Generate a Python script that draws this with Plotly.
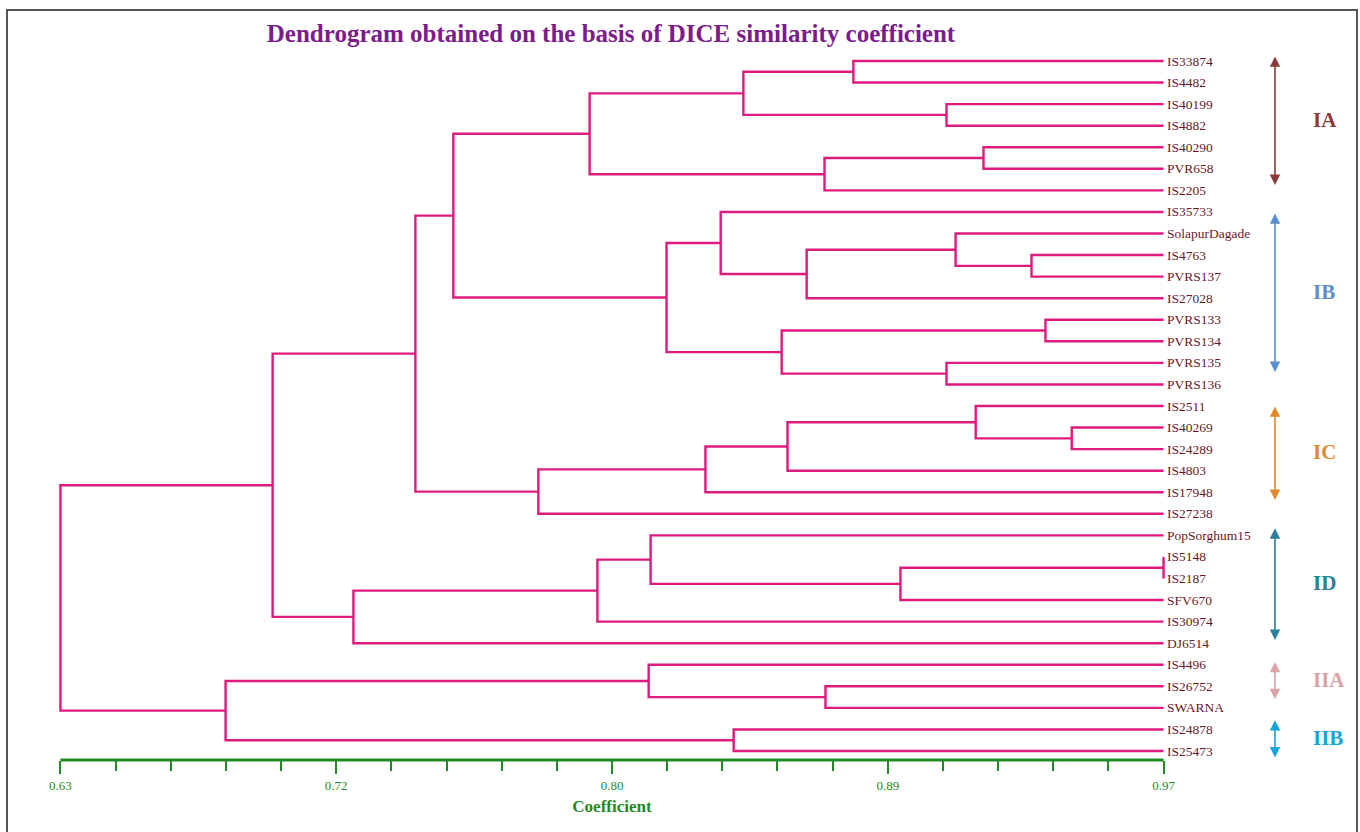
import numpy as np
import plotly.graph_objects as go

# ---------------- data ----------------
leaves = ["IS33874", "IS4482", "IS40199", "IS4882", "IS40290", "PVR658", "IS2205",
          "IS35733", "SolapurDagade", "IS4763", "PVRS137", "IS27028", "PVRS133",
          "PVRS134", "PVRS135", "PVRS136",
          "IS2511", "IS40269", "IS24289", "IS4803", "IS17948", "IS27238",
          "PopSorghum15", "IS5148", "IS2187", "SFV670", "IS30974", "DJ6514",
          "IS4496", "IS26752", "SWARNA", "IS24878", "IS25473"]

# linkage: node id = len(leaves) + row index
merge_left = [0, 2, 33, 4, 36, 35, 9, 8, 40, 7, 12, 14, 43, 42, 38, 17, 16, 49, 50, 51,
              47, 23, 54, 22, 56, 57, 53, 29, 28, 31, 61, 59]
merge_right = [1, 3, 34, 5, 6, 37, 10, 39, 11, 41, 13, 15, 44, 45, 46, 18, 48, 19, 20, 21,
               52, 24, 25, 55, 26, 27, 58, 30, 60, 32, 62, 63]
merge_height = [0.8744, 0.9031, 0.8405, 0.9145, 0.8655, 0.7931, 0.9293, 0.9059, 0.8600,
                0.8335, 0.9336, 0.9031, 0.8523, 0.8168, 0.7511, 0.9417, 0.9121, 0.8541,
                0.8288, 0.7773, 0.7394, 0.9700, 0.8889, 0.8119, 0.7955, 0.7203, 0.6954,
                0.8658, 0.8113, 0.8375, 0.6809, 0.6300]

tick_vals = [0.63, 0.715, 0.80, 0.885, 0.97]
tick_text = ["0.63", "0.72", "0.80", "0.89", "0.97"]

groups = ["IA", "IB", "IC", "ID", "IIA", "IIB"]
group_start = [-0.28, 7.0, 15.95, 21.6, 27.8, 30.5]
group_end = [5.75, 14.42, 20.36, 26.85, 29.6, 32.3]
group_colors = ["#8B3A3A", "#5B8FC9", "#E0892C", "#2B7F96", "#D9A3AA", "#1AA3DD"]

# ---------------- build dendrogram paths ----------------
n = len(leaves)
LEAF_X = 0.97
node_x = {i: LEAF_X for i in range(n)}
node_y = {i: float(i) for i in range(n)}
xs, ys = [], []
for k, (a, b, h) in enumerate(zip(merge_left, merge_right, merge_height)):
    nid = n + k
    xs += [node_x[a], h, h, node_x[b], None]
    ys += [node_y[a], node_y[a], node_y[b], node_y[b], None]
    node_x[nid] = h
    node_y[nid] = (node_y[a] + node_y[b]) / 2

LINE = "#DE1A7E"
GREEN = "#1F8B24"
SERIF = "Liberation Serif, Times New Roman, serif"

W, H = 1360, 832
ML, MR, MT, MB = 28, 164, 40, 72
XR = [0.62, 0.98]
YR = [32.417, -0.974]
plot_w = W - ML - MR
plot_h = H - MT - MB
px_per_leaf = plot_h / (YR[0] - YR[1])


def paper_x(px):
    return (px - ML) / plot_w


fig = go.Figure()
fig.add_trace(go.Scatter(x=xs, y=ys, mode="lines",
                         line=dict(color=LINE, width=2.4),
                         hoverinfo="skip", showlegend=False))

annotations = []
for i, name in enumerate(leaves):
    annotations.append(dict(x=LEAF_X, y=i, xref="x", yref="y", text=name,
                            showarrow=False, xanchor="left", yanchor="middle",
                            xshift=1,
                            font=dict(family=SERIF, size=13.5, color="#6A1826")))

for g, s, e, c in zip(groups, group_start, group_end, group_colors):
    annotations.append(dict(x=paper_x(1275), y=e, xref="paper", yref="y",
                            ax=0, ay=-(e - s) * px_per_leaf, axref="pixel", ayref="pixel",
                            text="", showarrow=True,
                            arrowhead=2, startarrowhead=2, arrowside="end+start",
                            arrowsize=1.3, startarrowsize=1.3, arrowwidth=1.6,
                            arrowcolor=c, standoff=0, startstandoff=0))
    annotations.append(dict(x=paper_x(1311), y=(s + e) / 2, xref="paper", yref="y",
                            text="<b>" + g + "</b>",
                            showarrow=False, xanchor="left", yanchor="middle",
                            font=dict(family=SERIF, size=21, color=c)))

shapes = [
    # outer frame
    dict(type="rect", xref="paper", yref="paper", x0=paper_x(7), x1=paper_x(1357),
         y0=-0.12, y1=1 + 30 / plot_h, line=dict(color="#555555", width=2), layer="below"),
    # green axis line
    dict(type="line", xref="x", yref="paper", x0=0.63, x1=0.97, y0=0, y1=0,
         line=dict(color=GREEN, width=3)),
]

minor_vals = [round(0.63 + 0.017 * k, 4) for k in range(21) if k % 5 != 0]

fig.update_layout(
    width=W, height=H,
    margin=dict(l=ML, r=MR, t=MT, b=MB),
    paper_bgcolor="white", plot_bgcolor="white",
    title=dict(text="<b>Dendrogram obtained on the basis of DICE similarity coefficient</b>",
               x=611 / W, xanchor="center", xref="container",
               y=1 - 33 / H, yanchor="middle", yref="container",
               font=dict(family=SERIF, size=25, color="#7A1C8C")),
    xaxis=dict(range=XR, showgrid=False, zeroline=False, showline=False,
               tickmode="array", tickvals=tick_vals, ticktext=tick_text,
               ticks="outside", ticklen=13, tickwidth=2, tickcolor=GREEN,
               tickfont=dict(family=SERIF, size=13, color=GREEN),
               minor=dict(tickmode="array", tickvals=minor_vals, ticks="outside",
                          ticklen=10, tickwidth=2, tickcolor=GREEN, showgrid=False),
               title=dict(text="<b>Coefficient</b>", standoff=8,
                          font=dict(family=SERIF, size=17, color=GREEN))),
    yaxis=dict(range=YR, visible=False, showgrid=False, zeroline=False),
    annotations=annotations,
    shapes=shapes,
)

fig.write_html("out.html", config={"displayModeBar": False},
               post_script="document.body.style.margin='0px';")
